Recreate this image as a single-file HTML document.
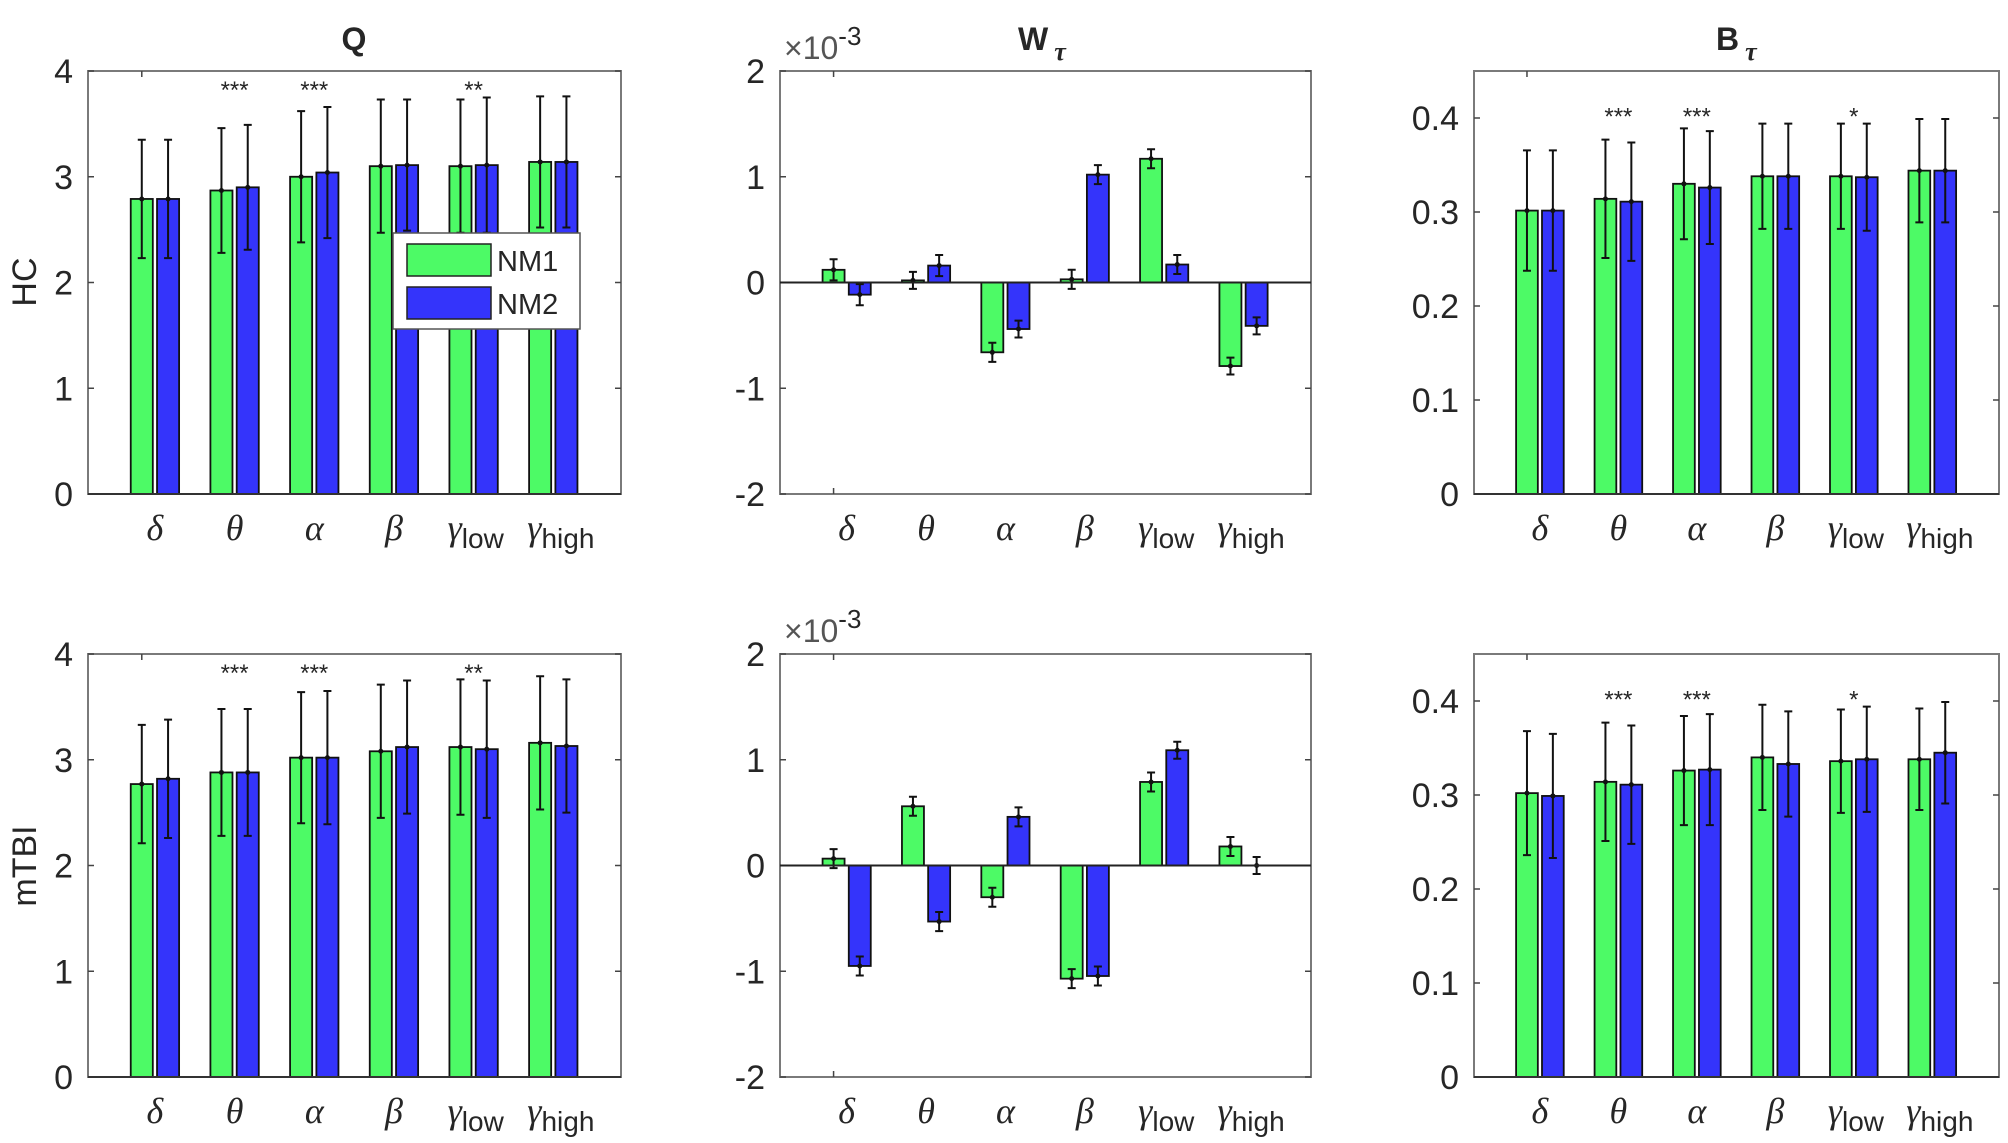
<!DOCTYPE html>
<html><head><meta charset="utf-8">
<style>
html,body{margin:0;padding:0;background:#fff;}
svg{display:block;}
text{font-family:"Liberation Sans",sans-serif;fill:#262626;}
.greek{font-family:"Liberation Serif",serif;font-style:italic;}
</style></head>
<body>
<svg id="fig" width="2008" height="1143" viewBox="0 0 2008 1143" xmlns="http://www.w3.org/2000/svg"></svg>
<script>
// ---- data ----
const categories = ["δ","θ","α","β","γ","γ"];
const categorySubs = ["","","","","low","high"];
const qHcNm1 = [2.79,2.87,3.00,3.10,3.10,3.14];
const qHcNm2 = [2.79,2.90,3.04,3.11,3.11,3.14];
const qHcErr1 = [0.56,0.59,0.62,0.63,0.63,0.62];
const qHcErr2 = [0.56,0.59,0.62,0.62,0.64,0.62];
const qHcStars = ["","***","***","","**",""];
const qTbiNm1 = [2.77,2.88,3.02,3.08,3.12,3.16];
const qTbiNm2 = [2.82,2.88,3.02,3.12,3.10,3.13];
const qTbiErr1 = [0.56,0.60,0.62,0.63,0.64,0.63];
const qTbiErr2 = [0.56,0.60,0.63,0.63,0.65,0.63];
const qTbiStars = ["","***","***","","**",""];
const wHcNm1 = [0.12,0.02,-0.66,0.03,1.17,-0.79];
const wHcNm2 = [-0.115,0.16,-0.44,1.02,0.17,-0.41];
const wHcErr1 = [0.10,0.08,0.09,0.09,0.09,0.08];
const wHcErr2 = [0.10,0.10,0.08,0.09,0.09,0.08];
const wTbiNm1 = [0.065,0.56,-0.30,-1.07,0.79,0.18];
const wTbiNm2 = [-0.95,-0.53,0.46,-1.045,1.09,0.0];
const wTbiErr1 = [0.09,0.09,0.09,0.09,0.09,0.09];
const wTbiErr2 = [0.09,0.09,0.09,0.09,0.08,0.08];
const bHcNm1 = [0.3015,0.314,0.330,0.338,0.338,0.344];
const bHcNm2 = [0.3015,0.311,0.326,0.338,0.337,0.344];
const bHcErr1 = [0.064,0.063,0.059,0.056,0.056,0.055];
const bHcErr2 = [0.064,0.063,0.060,0.056,0.057,0.055];
const bHcStars = ["","***","***","","*",""];
const bTbiNm1 = [0.302,0.314,0.326,0.340,0.336,0.338];
const bTbiNm2 = [0.299,0.311,0.327,0.333,0.338,0.345];
const bTbiErr1 = [0.066,0.063,0.058,0.056,0.055,0.054];
const bTbiErr2 = [0.066,0.063,0.059,0.056,0.056,0.054];
const bTbiStars = ["","***","***","","*",""];
const qTicks = [0,1,2,3,4];
const wTicks = [-2,-1,0,1,2];
const bTicks = [0,0.1,0.2,0.3,0.4];
const qTickLabels = ["0","1","2","3","4"];
const wTickLabels = ["-2","-1","0","1","2"];
const bTickLabels = ["0","0.1","0.2","0.3","0.4"];

const NS = "http://www.w3.org/2000/svg";
const svg = document.getElementById('fig');
function mk(tag, attrs, parent, txt){
  const e = document.createElementNS(NS, tag);
  for (const k in attrs) e.setAttribute(k, attrs[k]);
  if (txt !== undefined) e.textContent = txt;
  (parent || svg).appendChild(e);
  return e;
}
const GREEN = "#4dfa66", BLUE = "#3434fb";

function panel(id, box, ymin, ymax, ticks, tickLabels, nm1, nm2, err1, err2, stars, starY) {
  const g = mk('g', {});
  
  
  const xmin = 0.16, xmax = 6.85;
  const X = v => box.x0 + (v - xmin) / (xmax - xmin) * (box.x1 - box.x0);
  const Y = v => box.y1 - (v - ymin) / (ymax - ymin) * (box.y1 - box.y0);
  const frame = mk('rect', {x: box.x0, y: box.y0, width: box.x1 - box.x0, height: box.y1 - box.y0, fill: 'none', stroke: '#7a7a7a', 'stroke-width': 2}, g);
  
  
  ticks.forEach((t, i) => {
    const y = Y(t);
    mk('line', {x1: box.x0, x2: box.x0 + 6, y1: y, y2: y, stroke: '#444', 'stroke-width': 1.5}, g);
    mk('line', {x1: box.x1, x2: box.x1 - 6, y1: y, y2: y, stroke: '#444', 'stroke-width': 1.5}, g);
    const tl = mk('text', {x: box.x0 - 15, y: y + 12, 'text-anchor': 'end', 'font-size': 34}, g, tickLabels[i]);
    
    
  });
  const xt = X(1 - 0.165);
  mk('line', {x1: xt, x2: xt, y1: box.y1, y2: box.y1 - 6, stroke: '#444', 'stroke-width': 1.5}, g);
  mk('line', {x1: xt, x2: xt, y1: box.y0, y2: box.y0 + 6, stroke: '#444', 'stroke-width': 1.5}, g);
  const bw = 0.277, off = 0.165;
  const y0 = Y(Math.max(ymin, 0));
  for (let i = 0; i < categories.length; i++) {
    [[nm1, err1, GREEN, -off, 'nm1'], [nm2, err2, BLUE, off, 'nm2']].forEach(([vals, errs, col, o, s]) => {
      const c = i + 1 + o;
      const v = vals[i];
      const yv = Y(v);
      const r = mk('rect', {x: X(c - bw / 2), y: Math.min(yv, y0), width: X(c + bw / 2) - X(c - bw / 2), height: Math.abs(yv - y0), fill: col, stroke: '#111', 'stroke-width': 1.8}, g);
      
      
      const eh = Y(v + errs[i]), el = Y(v - errs[i]), xc = X(c);
      const eb = mk('path', {d: `M${xc},${eh}V${el}M${xc - 4},${eh}H${xc + 4}M${xc - 4},${el}H${xc + 4}`, stroke: '#111', 'stroke-width': 2, fill: 'none'}, g);
      
      
      mk('circle', {cx: xc, cy: yv, r: 2.5, fill: '#111'}, g);
    });
    if (stars && stars[i]) {
      const st = mk('text', {x: X(i + 1), y: Y(starY) + 12, 'text-anchor': 'middle', 'font-size': 24}, g, stars[i]);
      
      
    }
    const lx = categorySubs[i] ? X(i + 1) - 26 : X(i + 1);
    const lab = mk('text', {x: lx, y: box.y1 + 46, 'text-anchor': categorySubs[i] ? 'start' : 'middle', 'font-size': 36}, g);
    
    
    mk('tspan', {class: 'greek'}, lab, categories[i]);
    if (categorySubs[i]) mk('tspan', {dy: 8, 'font-size': 28}, lab, categorySubs[i]);
  }
  if (ymin < 0) mk('line', {x1: box.x0, x2: box.x1, y1: Y(0), y2: Y(0), stroke: '#222', 'stroke-width': 2}, g);
  else mk('line', {x1: box.x0, x2: box.x1, y1: box.y1, y2: box.y1, stroke: '#333', 'stroke-width': 2}, g);
  return g;
}

const rowTop = {y0: 71, y1: 494}, rowBot = {y0: 654, y1: 1077};
const c1 = {x0: 88, x1: 621}, c2 = {x0: 780, x1: 1311}, c3 = {x0: 1474, x1: 1999};
panel('q-hc', {...c1, ...rowTop}, 0, 4, qTicks, qTickLabels, qHcNm1, qHcNm2, qHcErr1, qHcErr2, qHcStars, 3.86);
panel('q-mtbi', {...c1, ...rowBot}, 0, 4, qTicks, qTickLabels, qTbiNm1, qTbiNm2, qTbiErr1, qTbiErr2, qTbiStars, 3.86);
panel('w-hc', {...c2, ...rowTop}, -2, 2, wTicks, wTickLabels, wHcNm1, wHcNm2, wHcErr1, wHcErr2, null, 0);
panel('w-mtbi', {...c2, ...rowBot}, -2, 2, wTicks, wTickLabels, wTbiNm1, wTbiNm2, wTbiErr1, wTbiErr2, null, 0);
panel('b-hc', {...c3, ...rowTop}, 0, 0.45, bTicks, bTickLabels, bHcNm1, bHcNm2, bHcErr1, bHcErr2, bHcStars, 0.406);
panel('b-mtbi', {...c3, ...rowBot}, 0, 0.45, bTicks, bTickLabels, bTbiNm1, bTbiNm2, bTbiErr1, bTbiErr2, bTbiStars, 0.406);

let t = mk('text', {x: 354, y: 50, 'text-anchor': 'middle', 'font-size': 32, 'font-weight': 'bold'}, svg, 'Q');
 
t = mk('text', {x: 1018, y: 50, 'font-size': 32, 'font-weight': 'bold'}, svg);
 
mk('tspan', {}, t, 'W'); mk('tspan', {dx: 6, dy: 10, 'font-size': 26, class: 'greek', 'font-weight': 'bold'}, t, 'τ');
t = mk('text', {x: 1716, y: 50, 'font-size': 32, 'font-weight': 'bold'}, svg);
 
mk('tspan', {}, t, 'B'); mk('tspan', {dx: 6, dy: 10, 'font-size': 26, class: 'greek', 'font-weight': 'bold'}, t, 'τ');
[rowTop, rowBot].forEach((r, k) => {
  const e = mk('text', {x: 784, y: r.y0 - 12, 'font-size': 32}, svg);
  
  
  mk('tspan', {fill: '#555'}, e, '×10');
  mk('tspan', {dy: -14, 'font-size': 26}, e, '-3');
});
t = mk('text', {x: 36, y: 282, 'text-anchor': 'middle', 'font-size': 34, transform: 'rotate(-90 36 282)'}, svg, 'HC');
 
t = mk('text', {x: 36, y: 866, 'text-anchor': 'middle', 'font-size': 34, transform: 'rotate(-90 36 866)'}, svg, 'mTBI');
 
const lg = mk('g', {});
 
mk('rect', {x: 393, y: 233, width: 187, height: 96, fill: '#fff', stroke: '#555', 'stroke-width': 1.5}, lg);
const le1 = mk('g', {}, lg);
 
mk('rect', {x: 407, y: 244, width: 84, height: 32, fill: GREEN, stroke: '#222', 'stroke-width': 1.5}, le1);
mk('text', {x: 497, y: 271, 'font-size': 29}, le1, 'NM1');
const le2 = mk('g', {}, lg);
 
mk('rect', {x: 407, y: 287, width: 84, height: 32, fill: BLUE, stroke: '#222', 'stroke-width': 1.5}, le2);
mk('text', {x: 497, y: 314, 'font-size': 29}, le2, 'NM2');
</script>
</body></html>
